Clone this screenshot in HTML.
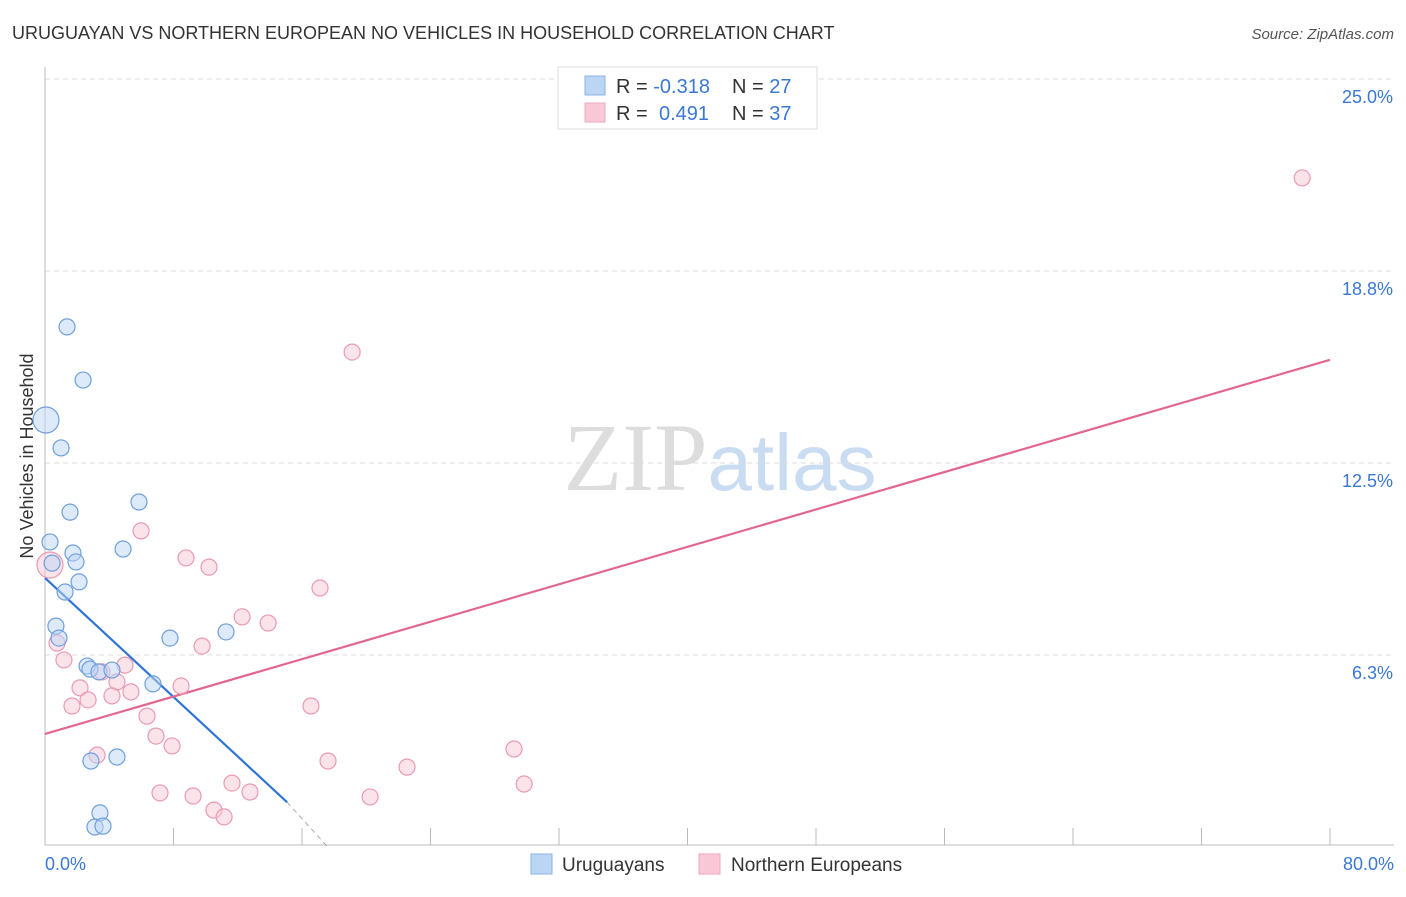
<!DOCTYPE html>
<html><head><meta charset="utf-8"><style>
body{margin:0;background:#fff;font-family:"Liberation Sans",sans-serif}
svg text{font-family:"Liberation Sans",sans-serif}
</style></head><body>
<svg id="chart" width="1406" height="892" xmlns="http://www.w3.org/2000/svg">
<text x="12" y="39" font-size="18" fill="#333">URUGUAYAN VS NORTHERN EUROPEAN NO VEHICLES IN HOUSEHOLD CORRELATION CHART</text>
<text x="1394" y="39" font-size="15" fill="#555" text-anchor="end" font-style="italic">Source: ZipAtlas.com</text>
<text x="720" y="490" font-size="96" text-anchor="middle" fill="#ddd"><tspan font-family="Liberation Serif">ZIP</tspan><tspan fill="#c9dcf2" font-size="80">atlas</tspan></text>
<text transform="translate(33,456) rotate(-90)" font-size="18" fill="#333" text-anchor="middle">No Vehicles in Household</text>
<g id="grid"></g><g id="axes"></g><g id="lines"></g><g id="points"></g>
<g>
<rect x="558" y="67" width="259" height="62" fill="#fff" stroke="#ddd"/>
<rect x="585" y="76" width="20" height="19" fill="#bcd5f5" stroke="#8ab2e6"/>
<rect x="585" y="103" width="20" height="19" fill="#f8c8d6" stroke="#eea8bd"/>
<text x="616" y="93" font-size="20" fill="#333">R = <tspan fill="#3a78d4">-0.318</tspan></text>
<text x="732" y="93" font-size="20" fill="#333">N = <tspan fill="#3a78d4">27</tspan></text>
<text x="616" y="120" font-size="20" fill="#333">R = <tspan fill="#3a78d4" x="659">0.491</tspan></text>
<text x="732" y="120" font-size="20" fill="#333">N = <tspan fill="#3a78d4">37</tspan></text>
</g>
<g>
<rect x="531" y="854" width="21" height="20" fill="#bcd5f5" stroke="#8ab2e6"/>
<text x="562" y="871" font-size="19" fill="#333">Uruguayans</text>
<rect x="699" y="854" width="21" height="20" fill="#f8c8d6" stroke="#eea8bd"/>
<text x="731" y="871" font-size="19" fill="#333">Northern Europeans</text>
</g>
</svg>
<script>
const yTicks=[6.25,12.5,18.75,25];
const yTickLabels=["6.3%","12.5%","18.8%","25.0%"];
const xTickLabels=["0.0%","80.0%"];
const blueX=[1.37,2.37,0.06,1.00,1.56,5.85,0.31,1.74,1.93,0.44,4.86,2.12,1.25,0.68,0.87,7.78,11.27,2.62,2.80,3.36,4.17,6.72,2.86,4.48,3.42,3.11,3.61];
const blueY=[16.93,15.20,13.90,12.99,10.90,11.23,9.93,9.57,9.28,9.24,9.70,8.63,8.30,7.19,6.80,6.80,7.00,5.89,5.79,5.70,5.76,5.31,2.80,2.93,1.11,0.65,0.68];
const pinkX=[78.27,19.12,5.98,8.78,10.21,17.12,12.27,13.89,0.75,9.78,1.18,4.98,3.55,4.48,2.18,8.47,5.35,4.17,2.68,1.68,16.56,6.35,6.91,7.91,3.24,29.20,17.62,22.54,11.64,29.83,7.16,9.22,12.76,20.24,10.52,11.15,0.31];
const pinkY=[21.78,16.11,10.29,9.41,9.11,8.43,7.49,7.29,6.64,6.54,6.09,5.92,5.70,5.37,5.18,5.24,5.05,4.92,4.79,4.59,4.59,4.26,3.61,3.29,2.99,3.19,2.80,2.60,2.08,2.05,1.76,1.66,1.79,1.63,1.20,0.98,9.18];
const blueTrend=[[0,8.76],[15.07,1.46]];
const blueTrendDash=[[15.07,1.46],[17.6,0]];
const pinkTrend=[[0,3.68],[80,15.86]];
const X=v=>45+v*(1285/80), Y=v=>847-v*(768/25);
const NS="http://www.w3.org/2000/svg";
function mk(tag,attrs,parent){const e=document.createElementNS(NS,tag);for(const k in attrs)e.setAttribute(k,attrs[k]);document.getElementById(parent).appendChild(e);return e;}
yTicks.forEach((t,i)=>{
 const l=mk("line",{x1:45,x2:1394,y1:Y(t),y2:Y(t),stroke:"#ddd","stroke-dasharray":"5,4"},"grid");
 
 
 const tx=mk("text",{x:1393,y:Y(t)+24,"font-size":18,fill:"#3a78d4","text-anchor":"end"},"grid");tx.textContent=yTickLabels[i];
 
 
});
const ax=mk("line",{x1:45,x2:45,y1:67,y2:845,stroke:"#bbb"},"axes");


const bx=mk("line",{x1:45,x2:1394,y1:845,y2:845,stroke:"#bbb"},"axes");


for(let i=0;i<=10;i++){const v=i*8;const t=mk("line",{x1:X(v),x2:X(v),y1:828,y2:845,stroke:"#bbb"},"axes");
 
 }
[[0,"start",45],[80,"end",1394]].forEach((d,i)=>{const t=mk("text",{x:d[2],y:870,"font-size":18,fill:"#3a78d4","text-anchor":d[1]},"axes");t.textContent=xTickLabels[i];
 
 });
function pts(xs,ys,fill,stroke,name,bigIdx){xs.forEach((x,i)=>{const c=mk("circle",{cx:X(x),cy:Y(ys[i]),r:i===bigIdx?13:8,fill:fill,"fill-opacity":0.5,stroke:stroke,"stroke-width":1.2},"points");
 
 });}
pts(pinkX,pinkY,"#f8c8d6","#e99ab4","northern-european-point",36);
pts(blueX,blueY,"#bcd5f5","#6f9fdc","uruguayan-point",2);
function ln(p,color,name,dash){const l=mk("line",{x1:X(p[0][0]),y1:Y(p[0][1]),x2:X(p[1][0]),y2:Y(p[1][1]),stroke:color,"stroke-width":dash?1:2.2},"lines");if(dash)l.setAttribute("stroke-dasharray","5,4");
 
 }
ln(blueTrend,"#2f74d6","uruguayan-trend-line");
ln(blueTrendDash,"#aaa","uruguayan-trend-extension",true);
ln(pinkTrend,"#e2678f","northern-european-trend-line");
</script>
</body></html>
